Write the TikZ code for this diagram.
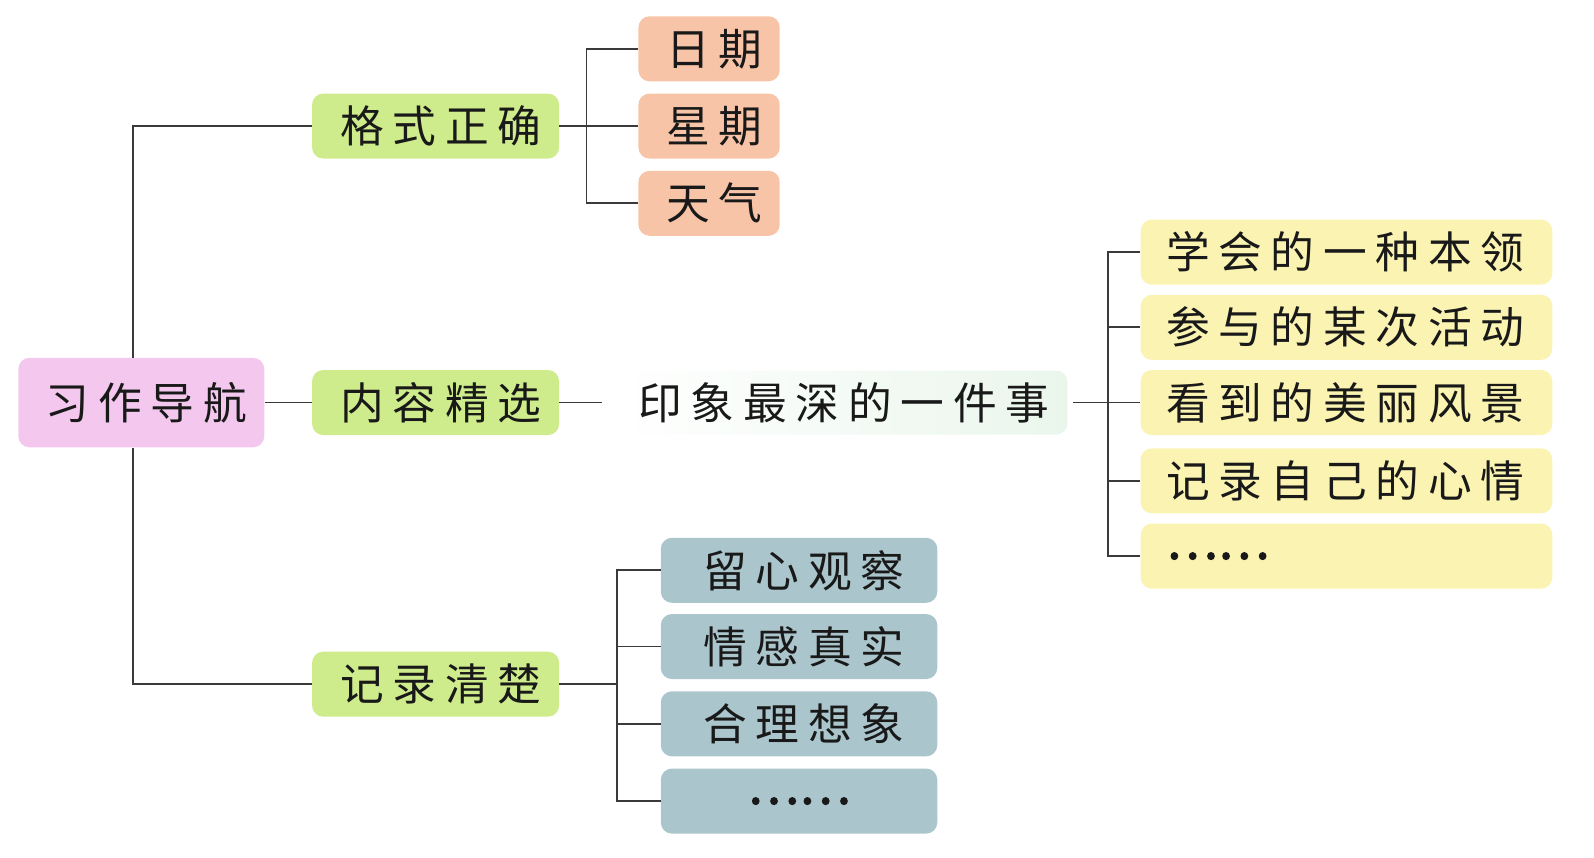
\documentclass[tikz,border=0pt]{standalone}
\usepackage{fontspec}
\newfontfamily\cjk[LetterSpace=20]{Noto Sans CJK SC}
\newfontfamily\cjkdots[FakeBold=2.5]{Noto Sans CJK SC}
\definecolor{rootpink}{HTML}{F4C8EE}
\definecolor{lime}{HTML}{CFEC8C}
\definecolor{salmon}{HTML}{F8C4A8}
\definecolor{pale}{HTML}{FAF3B2}
\definecolor{slate}{HTML}{AAC5CC}
\definecolor{mint}{HTML}{EAF6EC}
\definecolor{linec}{HTML}{3A3A3A}
\begin{document}
\begin{tikzpicture}[x=1pt,y=-1pt,
  every node/.style={font=\cjk\fontsize{43}{50}\selectfont, text=black!90, rounded corners=11pt, inner sep=0pt},
  rootbox/.style={fill=rootpink, minimum width=242pt, minimum height=88pt},
  mainbox/.style={fill=lime, minimum width=243pt, minimum height=64pt},
  subbox/.style={fill=salmon, minimum width=139pt, minimum height=64pt},
  midbox/.style={left color=white, right color=mint, minimum width=450pt, minimum height=63pt},
  ybox/.style={fill=pale, minimum height=64pt, text width=355pt, inner xsep=25pt, align=left},
  sbox/.style={fill=slate, minimum width=272pt, minimum height=64pt},
  dots/.style={font=\cjkdots\fontsize{48}{50}\selectfont},
  conn/.style={draw=linec, line width=1.8pt}]
\useasboundingbox (0,0) rectangle (1568,844);
\node[rootbox] (root) at (139,396) {\hspace*{10pt}习作导航};
\node[mainbox] (g1) at (428.5,124) {\hspace*{10pt}格式正确};
\node[mainbox] (g2) at (428.5,396) {\hspace*{10pt}内容精选};
\node[mainbox] (g3) at (428.5,673) {\hspace*{10pt}记录清楚};
\node[subbox] (d1) at (697.5,48) {\hspace*{10pt}日期};
\node[subbox] (d2) at (697.5,124) {\hspace*{10pt}星期};
\node[subbox] (d3) at (697.5,200) {\hspace*{10pt}天气};
\node[midbox] (m) at (825,396) {\hspace*{10pt}印象最深的一件事};
\node[ybox] (y1) at (1324.5,248) {学会的一种本领};
\node[ybox] (y2) at (1324.5,322) {参与的某次活动};
\node[ybox] (y3) at (1324.5,396) {看到的美丽风景};
\node[ybox] (y4) at (1324.5,473) {记录自己的心情};
\node[ybox,dots] (y5) at (1324.5,547) {……};
\node[sbox] (s1) at (786,561) {\hspace*{10pt}留心观察};
\node[sbox] (s2) at (786,636) {\hspace*{10pt}情感真实};
\node[sbox] (s3) at (786,712) {\hspace*{10pt}合理想象};
\node[sbox,dots] (s4) at (786,788) {……};
% root connectors
\coordinate (rt) at ([xshift=-8pt]root.north);
\coordinate (rb) at ([xshift=-8pt]root.south);
\draw[conn] (rt) |- (g1.west);
\draw[conn] (rb) |- (g3.west);
\draw[conn] (root.east) -- (g2.west);
% format branch
\coordinate (b1) at (577,124);
\draw[conn] (g1.east) -- (b1);
\draw[conn] (b1) |- (d1.west);
\draw[conn] (b1) |- (d3.west);
\draw[conn] (b1) -- (d2.west);
% content branch
\draw[conn] (g2.east) -- ++(42,0);
\coordinate (b2) at (1090,396);
\draw[conn] ([xshift=5pt]m.east) -- (b2);
\draw[conn] (b2) |- (y1.west);
\draw[conn] (b2) |- (y2.west);
\draw[conn] (b2) -- (y3.west);
\draw[conn] (b2) |- (y4.west);
\draw[conn] (b2) |- (y5.west);
% record branch
\coordinate (b3) at (607,673);
\draw[conn] (g3.east) -- (b3);
\draw[conn] (b3) |- (s1.west);
\draw[conn] (b3) |- (s2.west);
\draw[conn] (b3) |- (s3.west);
\draw[conn] (b3) |- (s4.west);
\end{tikzpicture}
\end{document}
